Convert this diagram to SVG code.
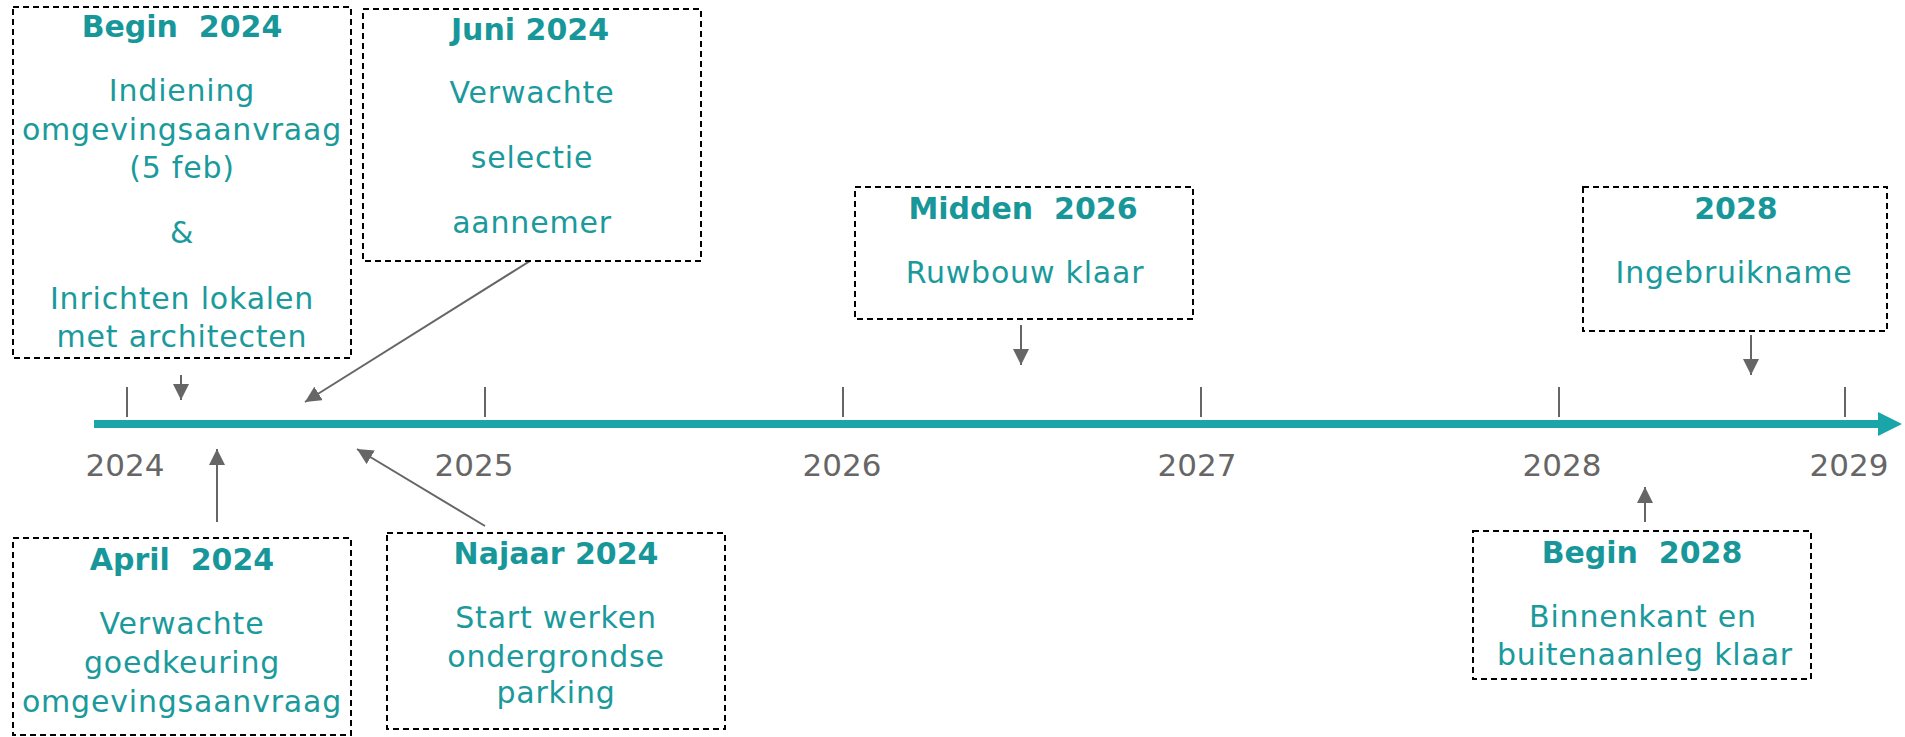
<svg xmlns="http://www.w3.org/2000/svg" width="1905" height="737" viewBox="0 0 1905 737">
<defs>
<marker id="ah" markerUnits="userSpaceOnUse" markerWidth="16" markerHeight="16" viewBox="0 0 16 16" refX="16" refY="8" orient="auto"><path d="M0,0 L16,8 L0,16 z" fill="#666"/></marker>
<filter id="sh" x="-5%" y="-300%" width="110%" height="700%"><feGaussianBlur stdDeviation="2"/></filter>
</defs>
<style>
.box{fill:#fff;stroke:#000;stroke-width:2;stroke-dasharray:6 4}
.t{font-family:"DejaVu Sans",Verdana,sans-serif;font-weight:bold;font-size:30px;fill:#18979a;text-anchor:middle;white-space:pre}
.b{font-family:"DejaVu Sans",Verdana,sans-serif;font-size:30px;fill:#1a9a9c;text-anchor:middle;letter-spacing:0.8px}
.y{font-family:"DejaVu Sans",Verdana,sans-serif;font-size:31px;fill:#666;text-anchor:middle}
.c{stroke:#666;stroke-width:2;fill:none;marker-end:url(#ah)}
.tick{stroke:#666;stroke-width:2}
</style>
<rect width="1905" height="737" fill="#fff"/>
<g id="timeline">
<g filter="url(#sh)" opacity="0.55">
<line x1="94" y1="427" x2="1880" y2="427" stroke="#888" stroke-width="8"/>
</g>
<line x1="94" y1="424" x2="1880" y2="424" stroke="#1aa6a9" stroke-width="8"/>
<polygon points="1878,412 1902,424 1878,436" fill="#1aa6a9"/>
<line class="tick" x1="127" y1="387" x2="127" y2="417"/>
<line class="tick" x1="485" y1="387" x2="485" y2="417"/>
<line class="tick" x1="843" y1="387" x2="843" y2="417"/>
<line class="tick" x1="1201" y1="387" x2="1201" y2="417"/>
<line class="tick" x1="1559" y1="387" x2="1559" y2="417"/>
<line class="tick" x1="1845" y1="387" x2="1845" y2="417"/>
<text class="y" x="125" y="476">2024</text>
<text class="y" x="474" y="476">2025</text>
<text class="y" x="842" y="476">2026</text>
<text class="y" x="1197" y="476">2027</text>
<text class="y" x="1562" y="476">2028</text>
<text class="y" x="1849" y="476">2029</text>
</g>
<g id="connectors">
<line class="c" x1="181" y1="375" x2="181" y2="400"/>
<line class="c" x1="530" y1="261" x2="305" y2="402"/>
<line class="c" x1="217" y1="522" x2="217" y2="449"/>
<line class="c" x1="485" y1="526" x2="357" y2="449"/>
<line class="c" x1="1021" y1="325" x2="1021" y2="365"/>
<line class="c" x1="1751" y1="335" x2="1751" y2="375"/>
<line class="c" x1="1645" y1="522" x2="1645" y2="487"/>
</g>
<g id="begin2024">
<rect class="box" x="13" y="7" width="338" height="351"/>
<text class="t" x="182" y="37">Begin  2024</text>
<text class="b" x="182" y="101">Indiening</text>
<text class="b" x="182" y="140">omgevingsaanvraag</text>
<text class="b" x="182" y="178">(5 feb)</text>
<text class="b" x="182" y="243">&amp;</text>
<text class="b" x="182" y="309">Inrichten lokalen</text>
<text class="b" x="182" y="347">met architecten</text>
</g>
<g id="juni2024">
<rect class="box" x="363" y="9" width="338" height="252"/>
<text class="t" x="530" y="40">Juni 2024</text>
<text class="b" x="532" y="103">Verwachte</text>
<text class="b" x="532" y="168">selectie</text>
<text class="b" x="532" y="233">aannemer</text>
</g>
<g id="april2024">
<rect class="box" x="13" y="538" width="338" height="197"/>
<text class="t" x="182" y="570">April  2024</text>
<text class="b" x="182" y="634">Verwachte</text>
<text class="b" x="182" y="673">goedkeuring</text>
<text class="b" x="182" y="712">omgevingsaanvraag</text>
</g>
<g id="najaar2024">
<rect class="box" x="387" y="533" width="338" height="196"/>
<text class="t" x="556" y="564">Najaar 2024</text>
<text class="b" x="556" y="628">Start werken</text>
<text class="b" x="556" y="667">ondergrondse</text>
<text class="b" x="556" y="703">parking</text>
</g>
<g id="midden2026">
<rect class="box" x="855" y="187" width="338" height="132"/>
<text class="t" x="1023" y="219">Midden  2026</text>
<text class="b" x="1025" y="283">Ruwbouw klaar</text>
</g>
<g id="y2028">
<rect class="box" x="1583" y="187" width="304" height="144"/>
<text class="t" x="1736" y="219">2028</text>
<text class="b" x="1734" y="283">Ingebruikname</text>
</g>
<g id="begin2028">
<rect class="box" x="1473" y="531" width="338" height="148"/>
<text class="t" x="1642" y="563">Begin  2028</text>
<text class="b" x="1643" y="627">Binnenkant en</text>
<text class="b" x="1645" y="665">buitenaanleg klaar</text>
</g>
</svg>
